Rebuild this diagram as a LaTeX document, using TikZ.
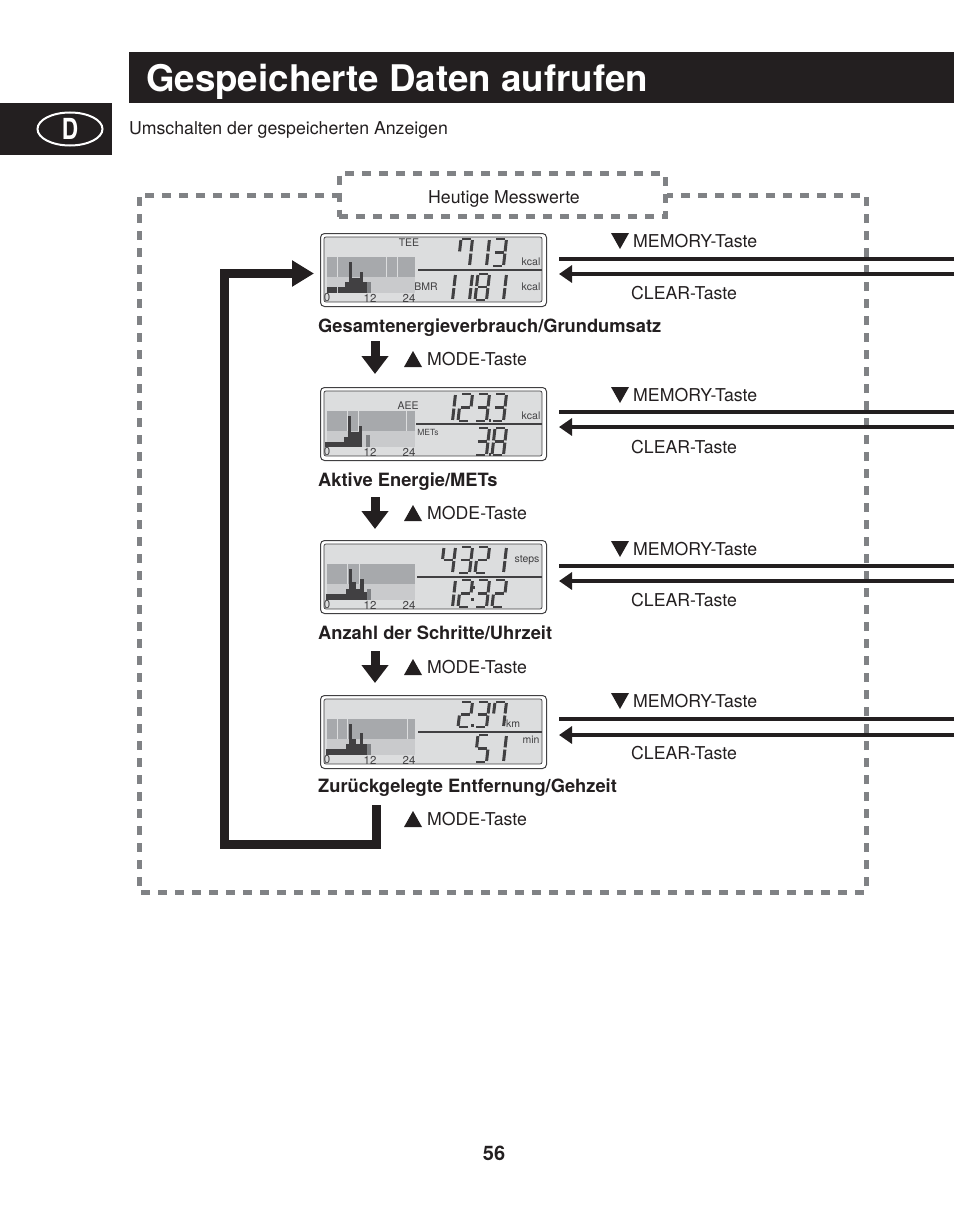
\documentclass[tikz,border=0pt]{standalone}
\usepackage{fontspec}
\setmainfont{TeX Gyre Heros}
\usetikzlibrary{arrows.meta,shapes.geometric}
\definecolor{panelblack}{HTML}{231F20}
\definecolor{dashgray}{HTML}{808285}
\definecolor{lcdlight}{HTML}{DCDDDE}
\definecolor{lcdband}{HTML}{A7A9AC}
\definecolor{lcdlow}{HTML}{C9CACC}
\definecolor{lcddark}{HTML}{414042}
\definecolor{lcdmid}{HTML}{808285}
\tikzset{
  lcdseg/.style={draw=lcddark,line width=3pt},
  lcdflat/.style={draw=lcddark,line width=2.3pt},
  lcdframe/.style={draw=lcddark,line width=1pt,rounded corners=4pt,fill=white,minimum width=226pt,minimum height=73pt,inner sep=0pt,anchor=north west},
  lcdtext/.style={text=lcddark,font=\fontsize{10.5}{10}\selectfont,inner sep=0pt},
  lcdaxis/.style={text=lcddark,font=\fontsize{11.5}{10}\selectfont,inner sep=0pt},
  tasten/.style={font=\fontsize{17.7}{20}\selectfont,anchor=base west,yshift=-6pt,inner sep=0pt,text=panelblack},
  caption/.style={font=\bfseries\fontsize{18.3}{20}\selectfont,anchor=base west,yshift=-6pt,inner sep=0pt,text=panelblack},
  dashline/.style={draw=dashgray,line width=5pt,dash pattern=on 9pt off 8pt},
  thinarrow/.style={draw=panelblack,line width=4pt},
  modearrow/.style={draw=panelblack,line width=9pt,-{Triangle[length=18pt,width=26pt]}},
}
% seven segments of one digit
\newcommand{\sega}{\draw[lcdflat] (.12,0) -- (.88,0);}
\newcommand{\segb}{\draw[lcdseg] (1,.04) -- (1,.46);}
\newcommand{\segc}{\draw[lcdseg] (1,.54) -- (1,.96);}
\newcommand{\segd}{\draw[lcdflat] (.12,1) -- (.88,1);}
\newcommand{\sege}{\draw[lcdseg] (0,.54) -- (0,.96);}
\newcommand{\segf}{\draw[lcdseg] (0,.04) -- (0,.46);}
\newcommand{\segg}{\draw[lcdflat] (.12,.5) -- (.88,.5);}
\newcommand{\dgone}{\segb\segc}
\newcommand{\dgtwo}{\sega\segb\segg\sege\segd}
\newcommand{\dgthree}{\sega\segb\segg\segc\segd}
\newcommand{\dgfour}{\segf\segb\segg\segc}
\newcommand{\dgfive}{\sega\segf\segg\segc\segd}
\newcommand{\dgseven}{\sega\segf\segb\segc}
\newcommand{\dgeight}{\sega\segb\segc\segd\sege\segf\segg}
\newcommand{\lcdrow}[3]{%
  \foreach \cx/\dg in {#3} {
    \begin{scope}[shift={(\cx,#1+1)},x={(11.5pt,0pt)},y={(-3pt,-#2pt)}]
      \dg
    \end{scope}
  }
}
% history chart of one display: top of frame, divider, bars, gaps
\newcommand{\lcdchart}[4]{%
  \begin{scope}[shift={(320,#1)}]
    \fill[lcdlight] (4,4) rectangle (222,69);
    \draw[lcddark,line width=.7pt,rounded corners=2pt] (4,4) rectangle (222,69);
    \fill[lcdband] (7,24) rectangle (95,44);
    \fill[lcdlow] (7,44) rectangle (95,60);
    \foreach \gx in {#4} \draw[lcdlight,line width=.8pt] (\gx,24) -- (\gx,44);
    \foreach \xa/\xb/\yt in {#3} \fill[lcddark] (\xa,\yt) rectangle (\xb,60);
    \draw[lcddark,line width=1.2pt] (#2,37) -- (222,37);
    \node[lcdaxis] at (7,65) {0};
    \node[lcdaxis] at (50,65) {12};
    \node[lcdaxis] at (89,65) {24};
  \end{scope}
}

\begin{document}
\begin{tikzpicture}[x=1pt,y=-1pt]
    \useasboundingbox (0,0) rectangle (954,1212);

    % header
    \fill[panelblack] (129,52) rectangle (954,103);
    \node[anchor=base west,inner sep=0pt,text=white,font=\bfseries\fontsize{36.7}{40}\selectfont] (title) at (146,92) {Gespeicherte Daten aufrufen};
    \fill[panelblack] (0,103) rectangle (112,155);
    \node[draw=white,line width=2pt,ellipse,minimum width=65pt,minimum height=33pt,inner sep=0pt,text=white,font=\bfseries\fontsize{29}{30}\selectfont] (lang) at (70,129) {\scalebox{.78}[1]{D}};
    \node[tasten] (subtitle) at (129,129) {Umschalten der gespeicherten Anzeigen};

    % dashed frame
    \node[dashline,minimum width=326pt,minimum height=43pt,inner sep=0pt] (today) at (502,195) {};
    \node[tasten] (todaytext) at (428,197) {Heutige Messwerte};
    \coordinate (dashl) at (341,195);
    \coordinate (dashr) at (667,195);
    \draw[dashline] (dashl) -- (139,195) -- (139,892) -- (866,892) -- (866,195) -- (dashr);

    % displays
    \foreach \n/\ft/\lm/\lc/\tm/\tc/\tn in {one/233/259/274/241/293/359,two/387/412/427/395/447/513,three/540/566/581/549/600/667,four/695/719/735/701/753/819} {
      \node[lcdframe] (lcd\n) at (320,\ft) {};
      \coordinate (memr\n) at (954,\lm);
      \coordinate (clrr\n) at (954,\lc);
      \draw[thinarrow,shorten >=11.5pt] (memr\n) -- (lcd\n.east |- memr\n);
      \draw[thinarrow,shorten >=12pt,-{Triangle[length=13pt,width=17pt]}] (clrr\n) -- (lcd\n.east |- clrr\n);
      \node[tasten] (mem\n) at (633,\tm) {MEMORY-Taste};
      \fill[panelblack] (633,\tm) ++(-22,-8) -- ++(18,0) -- ++(-9,16) -- cycle;
      \node[tasten] (clr\n) at (631,\tc) {CLEAR-Taste};
      \node[tasten] (mode\n) at (427,\tn) {MODE-Taste};
      \fill[panelblack] (427,\tn) ++(-23,8) -- ++(18,0) -- ++(-9,-16) -- cycle;
    }

    \node[caption] (capone) at (318,326) {Gesamtenergieverbrauch/Grundumsatz};
    \node[caption] (captwo) at (318,480) {Aktive Energie/METs};
    \node[caption] (capthree) at (318,633) {Anzahl der Schritte/Uhrzeit};
    \node[caption] (capfour) at (318,786) {Zurückgelegte Entfernung/Gehzeit};
    \node[font=\bfseries\fontsize{20}{22}\selectfont,inner sep=0pt,text=panelblack] (page) at (494,1153) {56};

    % display one
    \lcdchart{233}{98}{7/17/54,18/25/54,25/29/49,29/32/29,32/36/45,36/40/45,40/43/39,43/47/49}{17,66,77}
    \fill[lcdmid] (367,282) rectangle (371,293);
    \lcdrow{238}{27}{461/\dgseven,478/\dgone,495/\dgthree}
    \lcdrow{273}{26}{444/\dgone,461/\dgone,478/\dgeight,495/\dgone}
    \node[lcdtext] (tee) at (409,243) {TEE};
    \node[lcdtext] (kcalone) at (531,262) {kcal};
    \node[lcdtext] (bmr) at (426,287) {BMR};
    \node[lcdtext] (kcaltwo) at (531,287) {kcal};

    % display two
    \lcdchart{387}{96}{5/24/55,24/28/50,28/31/29,31/39/45,39/42/39}{27,38,86}
    \fill[lcdmid] (366,435) rectangle (370,447);
    \lcdrow{393}{27}{444/\dgone,461/\dgtwo,478/\dgthree,495/\dgthree}
    \fill[lcddark] (488.5,419) rectangle (491,421.5);
    \lcdrow{427}{27}{478/\dgthree,495/\dgeight}
    \fill[lcddark] (488.5,453) rectangle (491,455.5);
    \node[lcdtext] (aee) at (408,406) {AEE};
    \node[lcdtext] (kcalthree) at (531,416) {kcal};
    \node[lcdtext,font=\fontsize{8.5}{10}\selectfont] (mets) at (428,432) {METs};

    % display three
    \lcdchart{540}{97}{6/26/54,26/29/49,29/32/29,32/36/42,36/40/49,40/44/39,44/47/52}{27,39}
    \fill[lcdmid] (367,589) rectangle (371,600);
    \lcdrow{546}{26}{444/\dgfour,461/\dgthree,478/\dgtwo,495/\dgone}
    \lcdrow{579}{27}{444/\dgone,461/\dgtwo,478/\dgthree,495/\dgtwo}
    \fill[lcddark] (472.5,586) rectangle (475,588.5);
    \fill[lcddark] (471,598) rectangle (473.5,600.5);
    \node[lcdtext] (steps) at (527,560) {steps};

    % display four
    \lcdchart{695}{98}{6/18/54,18/26/54,26/29/49,29/32/29,32/36/44,36/40/49,40/43/38,43/47/49}{17,27,87}
    \fill[lcdmid] (367,744) rectangle (371,755);
    \lcdrow{701}{25}{461/\dgtwo,478/\dgthree,495/\dgseven}
    \fill[lcddark] (471,724) rectangle (473.5,726.5);
    \lcdrow{734}{27}{478/\dgfive,495/\dgone}
    \node[lcdtext] (km) at (513,724) {km};
    \node[lcdtext] (minu) at (531,740) {min};

    % mode arrows
    \coordinate (nextone) at (375,374);
    \coordinate (nexttwo) at (375,529);
    \coordinate (nextthree) at (375,683);
    \draw[modearrow] (375,341) -- (nextone);
    \draw[modearrow] (375,497) -- (nexttwo);
    \draw[modearrow] (375,651) -- (nextthree);

    % loop back
    \coordinate (loopstart) at (376,805);
    \coordinate (loopend) at (314,273.5);
    \draw[draw=panelblack,line width=9pt,-{Triangle[length=22pt,width=25pt]}] (loopstart) -- (376,844) -- (224,844) -- (224,273.5) -- (loopend);
\end{tikzpicture}
\end{document}
